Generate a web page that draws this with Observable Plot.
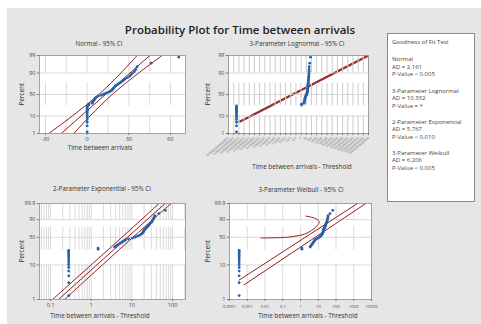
<!DOCTYPE html>
<html><head><meta charset="utf-8">
<script src="https://cdn.jsdelivr.net/npm/d3@7"></script>
<script src="https://cdn.jsdelivr.net/npm/@observablehq/plot@0.6"></script>
<style>
html,body{margin:0;padding:0;background:#fff;}
#root{position:relative;width:481px;height:324px;overflow:hidden;font-family:'Open Sans','Noto Sans',sans-serif;}
#bg{position:absolute;left:7px;top:8px;right:0;bottom:0;background:#e6e6e6;}
.t{position:absolute;white-space:nowrap;color:#333;line-height:1;}
#box{position:absolute;left:387px;top:33px;width:88px;height:169px;background:#fff;border:1px solid #8a8a8a;box-sizing:border-box;}
</style></head><body><div id="root"><div id="bg"></div><div id="box"></div></div>
<script>
// ---------------- data ----------------
const pct = [1.3,3.1,4.9,6.7,8.5,10.3,12.1,13.9,15.7,17.5,19.3,21.1,22.9,24.7,26.5,28.3,30.1,31.9,33.7,35.6,37.4,39.2,41.0,42.8,44.6,46.4,48.2,50.0,51.8,53.6,55.4,57.2,59.0,60.8,62.6,64.4,66.2,68.1,69.9,71.7,73.5,75.3,77.1,78.9,80.7,82.5,84.3,86.1,87.9,89.7,91.5,93.3,95.1,96.9,98.7];
const times = [0,0,0,0,0,0,0,0,0,0,0,0,0,0,1.2,1.2,3.5,3.8,4.2,4.6,5,5.4,5.8,6.3,6.8,8,10,11.5,12.5,14,15.5,16.5,17.5,18,18.5,19,19.5,20,20.5,21.5,22.5,23.5,24.5,25.5,26.5,27.5,29,30.5,31.5,32.5,34,35,36,46,66];
const thrLogn = -3.5e-13, thrExp = -0.28, thrWbl = -3.5e-4;

const normFitP = [1, 99], normFitX = [-18.7, 45.1];
const normCiP = [1, 10, 50, 90, 99];
const normCiLoX = [-27.6, -10.7, 8.4, 24.3, 36];
const normCiHiX = [-9.6, 2.1, 18, 37.1, 54];

const lognFitP = [5, 99], lognFitX = [1.1e-12, 1e13];
const lognCiAX = [5.7e-13, 5.1e12], lognCiBX = [2.1e-12, 1.95e13];

const expFitP = [1, 99.9], expFitX = [0.157, 65.3];
const expCiP = [1, 50, 99.9];
const expCiLoX = [0.112, 5.7, 46.6], expCiHiX = [0.221, 10.6, 91.8];

const wblAP = [3.7, 99.9], wblAX = [3.5e-4, 1630];
const wblBP = [2.7, 99.9], wblBX = [6.7e-4, 4770];
const wblHookP = [48.4, 50.7, 59, 75.1, 85.8, 91.4, 94.7];
const wblHookX = [0.0058, 0.23, 2.0, 7.3, 11.3, 7.3, 2.0];

const normTicksP = [1, 10, 50, 90, 99];
const wblTicksP = [1, 10, 50, 90, 99.9];
const normXTicks = [-30, 0, 30, 60];
const normXGrid = [-30, -15, 0, 15, 30, 45, 60];
const lognTickExp = [-14,-13,-12,-11,-10,-9,-8,-7,-6,-5,-4,-3,-2,-1,0,1,2,3,4,5,6,7,8,9,10,11,12,13];
const expXTicks = [0.1, 1, 10, 100];
const expXGrid = [0.06,0.07,0.08,0.09,0.1,0.2,0.3,0.4,0.5,0.6,0.7,0.8,0.9,1,2,3,4,5,6,7,8,9,10,20,30,40,50,60,70,80,90,100,200];
const wblXTicks = [0.0001, 0.001, 0.01, 0.1, 1, 10, 100, 1000, 10000];
const wblXLabels = ["0.0001","0.001","0.01","0.1","1","10","100","1000","10000"];

const gofLines = [
  ["Goodness of Fit Test", 42],
  ["Normal", 59.3], ["AD = 2.161", 66.8], ["P-Value < 0.005", 74.3],
  ["3-Parameter Lognormal", 90.7], ["AD = 10.332", 98.3], ["P-Value = *", 105.9],
  ["2-Parameter Exponential", 121.7], ["AD = 5.767", 129.3], ["P-Value < 0.010", 136.8],
  ["3-Parameter Weibull", 152.7], ["AD = 6.206", 160.2], ["P-Value < 0.005", 167.7]
];

// ---------------- helpers ----------------
function probit(p){
  const a=[-3.969683028665376e+01,2.209460984245205e+02,-2.759285104469687e+02,1.383577518672690e+02,-3.066479806614716e+01,2.506628277459239e+00];
  const b=[-5.447609879822406e+01,1.615858368580409e+02,-1.556989798598866e+02,6.680131188771972e+01,-1.328068155288572e+01];
  const c=[-7.784894002430293e-03,-3.223964580411365e-01,-2.400758277161838e+00,-2.549732539343734e+00,4.374664141464968e+00,2.938163982698783e+00];
  const d=[7.784695709041462e-03,3.224671290700398e-01,2.445134137142996e+00,3.754408661907416e+00];
  const pl=0.02425, ph=1-pl; let q,r;
  if(p<pl){q=Math.sqrt(-2*Math.log(p));return (((((c[0]*q+c[1])*q+c[2])*q+c[3])*q+c[4])*q+c[5])/((((d[0]*q+d[1])*q+d[2])*q+d[3])*q+1);}
  if(p<=ph){q=p-0.5;r=q*q;return (((((a[0]*r+a[1])*r+a[2])*r+a[3])*r+a[4])*r+a[5])*q/(((((b[0]*r+b[1])*r+b[2])*r+b[3])*r+b[4])*r+1);}
  q=Math.sqrt(-2*Math.log(1-p));return -(((((c[0]*q+c[1])*q+c[2])*q+c[3])*q+c[4])*q+c[5])/((((d[0]*q+d[1])*q+d[2])*q+d[3])*q+1);
}
const NZ = v => probit(v/100);
const WZ = v => Math.log(-Math.log(1 - v/100));
const root = document.getElementById("root");
const FONT = "'Open Sans','Noto Sans',sans-serif";
const GRID = "#d0d0d0", RED = "#931f1f", BLUE = "#2462a8";

function txt(s, cx, cy, size, extra = {}) {
  const el = document.createElement("div");
  el.className = "t"; el.textContent = s;
  el.style.fontSize = size + "px";
  el.style.left = cx + "px"; el.style.top = cy + "px";
  el.style.transform = extra.rotate ? "translate(-50%,-50%) rotate(-90deg)" : (extra.left ? "translate(0,-50%)" : "translate(-50%,-50%)");
  if (extra.color) el.style.color = extra.color;
  if (extra.weight) el.style.fontWeight = extra.weight;
  root.appendChild(el);
}
const rows = (xs, ps, f, thr = 0) => xs.map((x, i) => ({x: x - thr, y: f(ps[i])}));

function panel(cfg) {
  const [x0, y0, x1, y1] = cfg.box;
  const mL = 28, mR = 10, mT = 6, mB = 30;
  const f = cfg.f, segTop = cfg.segTop;
  const segs = [[segTop, 90], [75, 25], [10, 1]];
  const yTicksZ = cfg.yTicksP.map(f);
  const yLab = new Map(yTicksZ.map((z, i) => [z, String(cfg.yTicksP[i])]));
  const grid = [
    ...segs.map(([a, b]) => Plot.ruleX(cfg.xGrid, {y1: f(a), y2: f(b), stroke: GRID, strokeWidth: cfg.gridW || 0.8})),
    Plot.ruleY([90, 50, 10].map(f), {stroke: GRID, strokeWidth: 0.8})
  ];
  const svg = Plot.plot({
    width: x1 - x0 + mL + mR, height: y1 - y0 + mT + mB,
    marginLeft: mL, marginRight: mR, marginTop: mT, marginBottom: mB,
    x: {type: cfg.xType, domain: cfg.xDomain},
    y: {domain: [f(1), f(segTop)]},
    style: {background: "transparent", overflow: "visible", fontFamily: FONT, fontSize: "5.5px", color: "#444"},
    marks: [
      Plot.frame({fill: "white"}),
      ...(cfg.gridOnTop ? [] : grid),
      ...cfg.lines.map(l => Plot.line(l, {x: "x", y: "y", stroke: RED, strokeWidth: 1, curve: "catmull-rom", clip: true})),
      ...(cfg.gridOnTop ? grid : []),
      Plot.dot(cfg.points, {x: "x", y: "y", r: 1.4, fill: BLUE, clip: true}),
      Plot.frame({stroke: "#8f8f8f", strokeWidth: 0.8}),
      Plot.axisY({ticks: yTicksZ, tickFormat: z => yLab.get(z), tickSize: 2, tickPadding: 2, fontSize: 5.5, label: null, stroke: "#777"}),
      Plot.axisX({ticks: cfg.xTicks, tickFormat: cfg.xFmt, tickSize: 2, tickPadding: 2, fontSize: 5.5, label: null, stroke: "#777", ...(cfg.xAxisOpts || {})})
    ]
  });
  svg.style.position = "absolute";
  svg.style.left = (x0 - mL) + "px";
  svg.style.top = (y0 - mT) + "px";
  root.appendChild(svg);
}

// ---------------- panels ----------------
panel({
  box: [39, 55, 185, 133], f: NZ, segTop: 99, yTicksP: normTicksP,
  xType: "linear", xDomain: [-34.3, 70.8], xTicks: normXTicks, xFmt: d => String(d), xGrid: normXGrid,
  lines: [rows(normCiLoX, normCiP, NZ), rows(normFitX, normFitP, NZ), rows(normCiHiX, normCiP, NZ)],
  points: times.map((t, i) => ({x: t, y: NZ(pct[i])}))
});

const lognTicks = lognTickExp.map(k => Math.pow(10, k));
const lognFmt = v => { const k = Math.round(Math.log10(v)); return k < 0 ? "0." + "0".repeat(-k - 1) + "1" : "1" + "0".repeat(k); };
panel({
  box: [228, 55, 368, 133], f: NZ, segTop: 99, yTicksP: normTicksP,
  xType: "log", xDomain: [1e-14, 1e13], xTicks: lognTicks, xFmt: lognFmt, xGrid: lognTicks, gridW: 1.1, gridOnTop: true,
  xAxisOpts: {tickRotate: -40, fontSize: 3.2, fill: "#5a5a5a"},
  lines: [rows(lognCiAX, lognFitP, NZ), rows(lognFitX, lognFitP, NZ), rows(lognCiBX, lognFitP, NZ)],
  points: times.map((t, i) => ({x: t - thrLogn, y: NZ(pct[i])}))
});

panel({
  box: [39, 203, 185, 299], f: WZ, segTop: 99.9, yTicksP: wblTicksP,
  xType: "log", xDomain: [0.0537, 208], xTicks: expXTicks, xFmt: d => String(d), xGrid: expXGrid,
  lines: [rows(expCiLoX, expCiP, WZ), rows(expFitX, expFitP, WZ), rows(expCiHiX, expCiP, WZ)],
  points: times.map((t, i) => ({x: t - thrExp, y: WZ(pct[i])}))
});

const wblLab = new Map(wblXTicks.map((v, i) => [v, wblXLabels[i]]));
panel({
  box: [229, 203, 371, 299], f: WZ, segTop: 99.9, yTicksP: wblTicksP,
  xType: "log", xDomain: [1e-4, 1e4], xTicks: wblXTicks, xFmt: v => wblLab.get(v), xGrid: wblXTicks,
  xAxisOpts: {fontSize: 4.3, tickPadding: 3.5},
  lines: [rows(wblAX, wblAP, WZ), rows(wblBX, wblBP, WZ), rows(wblHookX, wblHookP, WZ)],
  points: times.map((t, i) => ({x: t - thrWbl, y: WZ(pct[i])}))
});

// ---------------- texts ----------------
txt("Probability Plot for Time between arrivals", 240, 30, 11.5, {weight: 600, color: "#222"});
txt("Normal - 95% CI", 99, 44, 6.3);
txt("3-Parameter Lognormal - 95% CI", 297, 44, 6.3);
txt("2-Parameter Exponential - 95% CI", 102, 189, 6.3);
txt("3-Parameter Weibull - 95% CI", 301, 190, 6.3);
txt("Time between arrivals", 100, 147.5, 6.3);
txt("Time between arrivals - Threshold", 302, 167, 6.3);
txt("Time between arrivals - Threshold", 100, 316, 6.3);
txt("Time between arrivals - Threshold", 308, 316, 6.3);
txt("Percent", 22, 94, 6.3, {rotate: true});
txt("Percent", 208, 94, 6.3, {rotate: true});
txt("Percent", 22, 251, 6.3, {rotate: true});
txt("Percent", 208, 251, 6.3, {rotate: true});
gofLines.forEach(([s, y]) => txt(s, 392, y, 6, {left: true, color: "#444"}));
</script></body></html>
